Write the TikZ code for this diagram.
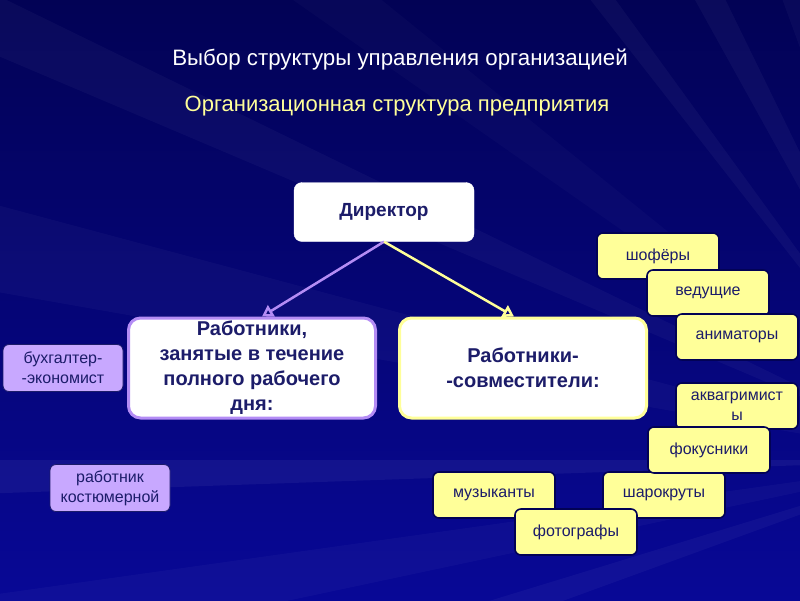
\documentclass[tikz,border=0pt]{standalone}
\usepackage{fontspec}
\setmainfont{Liberation Sans}
\usetikzlibrary{arrows.meta}

\begin{document}
\begin{tikzpicture}[x=1pt, y=-1pt, line join=round]

    \definecolor{bgdark}{RGB}{2,2,85}
    \definecolor{bgblue}{RGB}{8,8,150}
    \definecolor{inkblue}{RGB}{28,28,105}
    \definecolor{lilac}{RGB}{200,168,255}
    \definecolor{lilacline}{RGB}{180,140,245}
    \definecolor{paleyellow}{RGB}{255,255,153}

    \useasboundingbox (0,0) rectangle (800,600);

    % background with rays
    \begin{scope}
      \clip (0,0) rectangle (800,600);
      \shade[top color=bgdark, bottom color=bgblue] (0,0) rectangle (800,600);
      \foreach \a/\w/\o in {160/3/0.04, 168/4/0.03, 178/2/0.05, 190/5/0.03,
                            203/3/0.035, 215/4/0.025, 232/2/0.04, 241/3/0.04,
                            250/2/0.03, 258/3/0.04}
        \fill[white, opacity=\o] (950,460) -- ++(\a:1400) -- ++(\a+90:{1400*sin(\w)}) -- cycle;
    \end{scope}

    \tikzset{
      boss/.style={
        fill=white, draw=white, rounded corners=8pt,
        text=inkblue, font=\bfseries\fontsize{19}{22}\selectfont,
        minimum width=180pt, minimum height=59pt, inner sep=0pt
      },
      group/.style={
        fill=white, line width=3pt, rounded corners=12pt,
        text=inkblue, font=\bfseries\fontsize{20}{25}\selectfont, align=center,
        minimum width=247pt, minimum height=100pt, inner sep=0pt
      },
      lilacbox/.style={
        fill=lilac, draw=inkblue, line width=0.8pt, rounded corners=6pt,
        text=inkblue, font=\fontsize{16}{20}\selectfont, align=center,
        minimum width=120pt, minimum height=47pt, inner sep=0pt
      },
      yellowbox/.style={
        fill=paleyellow, draw=bgdark, line width=1.6pt, rounded corners=6pt,
        text=inkblue, font=\fontsize{16}{20}\selectfont, align=center,
        minimum width=122pt, minimum height=46pt, inner sep=0pt
      },
      link/.style={line width=2.5pt, -{Triangle[open, length=11pt, width=13pt]}}
    }

    \node[text=white, font=\fontsize{22.3}{26}\selectfont] (title) at (400,60)
      {Выбор структуры управления организацией};
    \node[text=paleyellow, font=\fontsize{22}{26}\selectfont] (subtitle) at (397,106)
      {Организационная структура предприятия};

    \node[boss] (director) at (384,212) {Директор};

    \node[group, draw=lilacline] (fulltime) at (252,368)
      {Работники,\\занятые в течение\\полного рабочего\\дня:};
    \node[group, draw=paleyellow] (parttime) at (523,368)
      {Работники-\\-совместители:};

    \draw[link, lilacline] (director.south) -- ([xshift=10pt]fulltime.north);
    \draw[link, paleyellow] (director.south) -- ([xshift=-9pt]parttime.north);

    \node[lilacbox] (accountant) at (63,368) {бухгалтер-\\-экономист};
    \node[lilacbox] (costume) at (110,488) {работник\\костюмерной};

    \node[yellowbox] (drivers) at (658,256) {шофёры};
    \node[yellowbox] (hosts) at (708,293) {ведущие};
    \node[yellowbox] (animators) at (737,337) {аниматоры};
    \node[yellowbox] (facepaint) at (737,406) {аквагримист\\ы};
    \node[yellowbox] (musicians) at (494,495) {музыканты};
    \node[yellowbox] (balloons) at (664,495) {шарокруты};
    \node[yellowbox] (magicians) at (709,450) {фокусники};
    \node[yellowbox] (photographers) at (576,532) {фотографы};

\end{tikzpicture}
\end{document}
